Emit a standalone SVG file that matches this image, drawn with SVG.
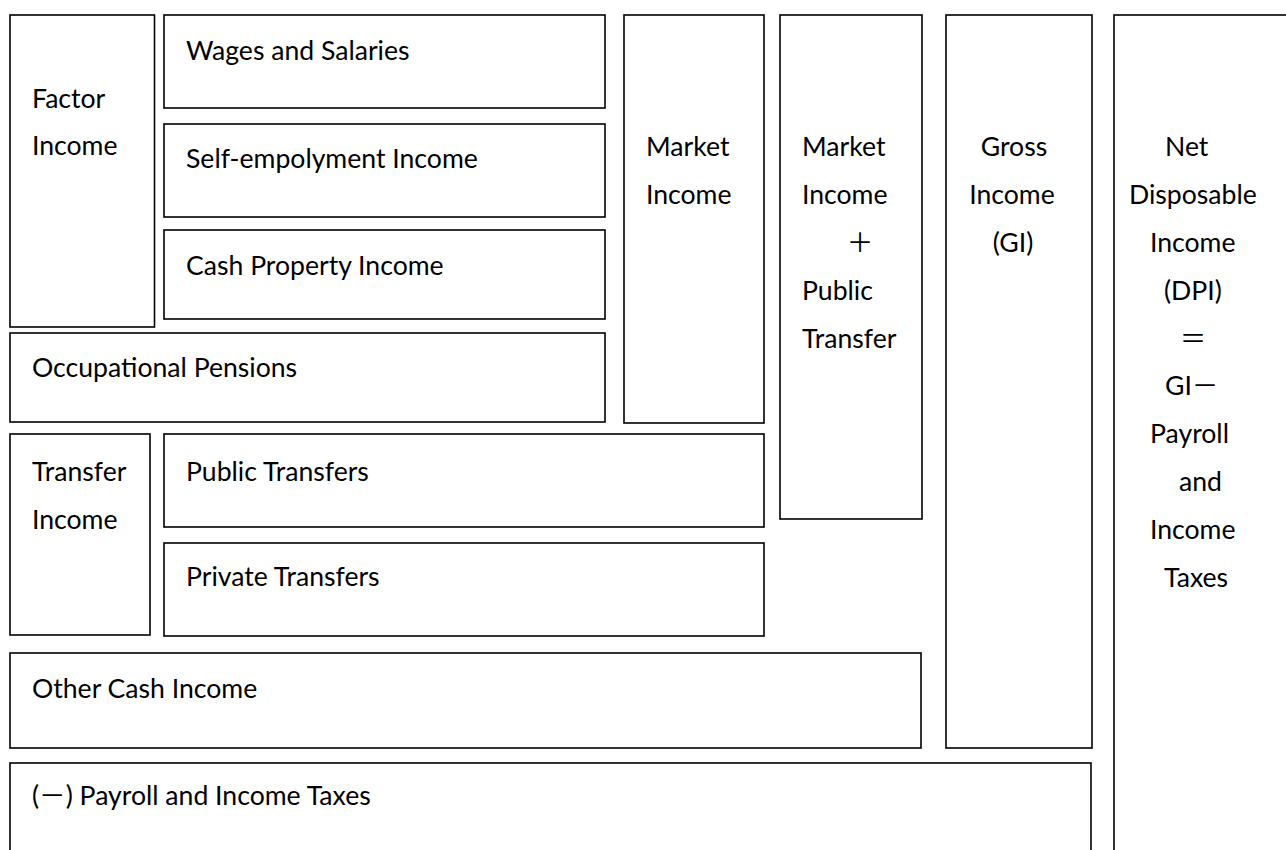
<svg xmlns="http://www.w3.org/2000/svg" width="1286" height="850" viewBox="0 0 1286 850">
  <style>
    .box { fill: #ffffff; stroke: #000000; stroke-width: 1.6; }
    .lbl { font-family: Lato, "Noto Sans CJK SC", sans-serif; font-size: 26.6px; fill: #000000; }
    .mid { text-anchor: middle; }
  </style>
  <rect x="0" y="0" width="1286" height="850" fill="#ffffff"/>

  <g id="factor-income">
    <rect class="box" x="10" y="15" width="144.5" height="312"/>
    <text class="lbl" x="32" y="108">Factor</text>
    <text class="lbl" x="32" y="155">Income</text>
  </g>
  <g id="wages">
    <rect class="box" x="164" y="15" width="441" height="93"/>
    <text class="lbl" x="186" y="60">Wages and Salaries</text>
  </g>
  <g id="self-employment">
    <rect class="box" x="164" y="124" width="441" height="93"/>
    <text class="lbl" x="186" y="168">Self-empolyment Income</text>
  </g>
  <g id="cash-property">
    <rect class="box" x="164" y="230" width="441" height="89"/>
    <text class="lbl" x="186" y="275">Cash Property Income</text>
  </g>
  <g id="occupational-pensions">
    <rect class="box" x="10" y="333" width="595" height="89"/>
    <text class="lbl" x="32" y="377">Occupational Pensions</text>
  </g>
  <g id="market-income">
    <rect class="box" x="624" y="15" width="140" height="408"/>
    <text class="lbl" x="646" y="156">Market</text>
    <text class="lbl" x="646" y="204">Income</text>
  </g>
  <g id="market-plus-public">
    <rect class="box" x="780" y="15" width="142" height="504"/>
    <text class="lbl" x="802" y="156">Market</text>
    <text class="lbl" x="802" y="204">Income</text>
    <text class="lbl mid" x="860" y="252">＋</text>
    <text class="lbl" x="802" y="300">Public</text>
    <text class="lbl" x="802" y="348">Transfer</text>
  </g>
  <g id="gross-income">
    <rect class="box" x="946" y="15" width="146" height="733"/>
    <text class="lbl mid" x="1014" y="156">Gross</text>
    <text class="lbl mid" x="1012" y="204">Income</text>
    <text class="lbl mid" x="1013" y="252">(GI)</text>
  </g>
  <g id="net-disposable-income">
    <rect class="box" x="1114" y="15" width="190" height="850"/>
    <text class="lbl" x="1165" y="156">Net</text>
    <text class="lbl" x="1129" y="204">Disposable</text>
    <text class="lbl" x="1150" y="252">Income</text>
    <text class="lbl" x="1164" y="300">(DPI)</text>
    <text class="lbl mid" x="1193" y="348">＝</text>
    <text class="lbl" x="1165" y="395">GI－</text>
    <text class="lbl" x="1150" y="443">Payroll</text>
    <text class="lbl" x="1179" y="491">and</text>
    <text class="lbl" x="1150" y="539">Income</text>
    <text class="lbl" x="1164" y="587">Taxes</text>
  </g>
  <g id="transfer-income">
    <rect class="box" x="10" y="434" width="140" height="201"/>
    <text class="lbl" x="32" y="481">Transfer</text>
    <text class="lbl" x="32" y="529">Income</text>
  </g>
  <g id="public-transfers">
    <rect class="box" x="164" y="434" width="600" height="93"/>
    <text class="lbl" x="186" y="481">Public Transfers</text>
  </g>
  <g id="private-transfers">
    <rect class="box" x="164" y="543" width="600" height="93"/>
    <text class="lbl" x="186" y="586">Private Transfers</text>
  </g>
  <g id="other-cash-income">
    <rect class="box" x="10" y="653" width="911" height="95"/>
    <text class="lbl" x="32" y="698">Other Cash Income</text>
  </g>
  <g id="payroll-taxes">
    <rect class="box" x="10" y="763" width="1081" height="120"/>
    <text class="lbl" x="32" y="805">(－) Payroll and Income Taxes</text>
  </g>
  <g id="connectors"></g>
</svg>
